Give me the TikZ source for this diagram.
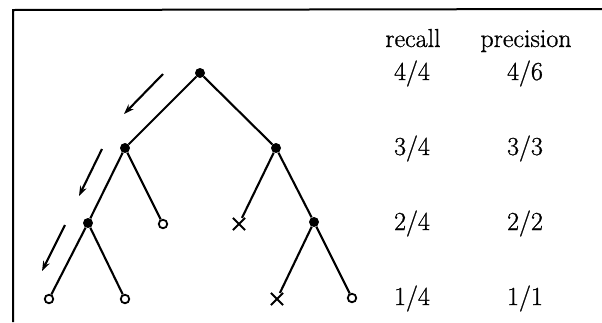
\documentclass[tikz,border=0pt]{standalone}
\usepackage{fontspec}
\newfontfamily\thickfont{Latin Modern Roman}[FakeBold=0.9]
\usetikzlibrary{shapes.misc,arrows.meta}
\begin{document}
\begin{tikzpicture}[x=1pt,y=-1pt,
  edge/.style={line width=2.1pt},
  full/.style={circle,fill=black,inner sep=0pt,minimum size=10pt},
  open/.style={circle,draw=black,line width=1.8pt,fill=white,inner sep=0pt,minimum size=8.5pt},
  bad/.style={cross out,draw=black,line width=2.1pt,inner sep=0pt,minimum size=10pt},
  dirarrow/.style={line width=2.1pt,-{Stealth[length=10pt,width=7pt]}},
  lbl/.style={anchor=base,inner sep=0pt,font=\thickfont\fontsize{26}{30}\selectfont}]
\useasboundingbox (0,0) rectangle (602,322);
\draw[line width=2pt] (13,322) -- (13,10) -- (602,9);
% tree nodes
\node[full] (r) at (200,73) {};
\node[full] (a) at (125,148) {};
\node[full] (b) at (276,148) {};
\node[full] (aa) at (88,223) {};
\node[open] (ab) at (163,224) {};
\node[bad] (ba) at (239,224) {};
\node[full] (bb) at (314,222) {};
\node[open] (aaa) at (49,299) {};
\node[open] (aab) at (125,299) {};
\node[bad] (bba) at (277,299) {};
\node[open] (bbb) at (352,298) {};
% edges
\draw[edge] (r) -- (a);
\draw[edge] (r) -- (b);
\draw[edge] (a) -- (aa);
\draw[edge] (a) -- (ab);
\draw[edge] (b) -- (ba);
\draw[edge] (b) -- (bb);
\draw[edge] (aa) -- (aaa);
\draw[edge] (aa) -- (aab);
\draw[edge] (bb) -- (bba);
\draw[edge] (bb) -- (bbb);
% arrows
\coordinate (s1) at (163,74); \coordinate (e1) at (124,114);
\coordinate (s2) at (102,149); \coordinate (e2) at (79,196);
\coordinate (s3) at (65,225); \coordinate (e3) at (42,271);
\draw[dirarrow] (s1) -- (e1);
\draw[dirarrow] (s2) -- (e2);
\draw[dirarrow] (s3) -- (e3);
% table
\node[lbl] (hr) at (413,47) {recall};
\node[lbl] (hp) at (526,47) {precision};
\node[lbl] (r1) at (412,80) {4/4};
\node[lbl] (p1) at (525,80) {4/6};
\node[lbl] (r2) at (412,155) {3/4};
\node[lbl] (p2) at (525,155) {3/3};
\node[lbl] (r3) at (412,230) {2/4};
\node[lbl] (p3) at (525,230) {2/2};
\node[lbl] (r4) at (412,305) {1/4};
\node[lbl] (p4) at (525,305) {1/1};
\end{tikzpicture}
\end{document}
